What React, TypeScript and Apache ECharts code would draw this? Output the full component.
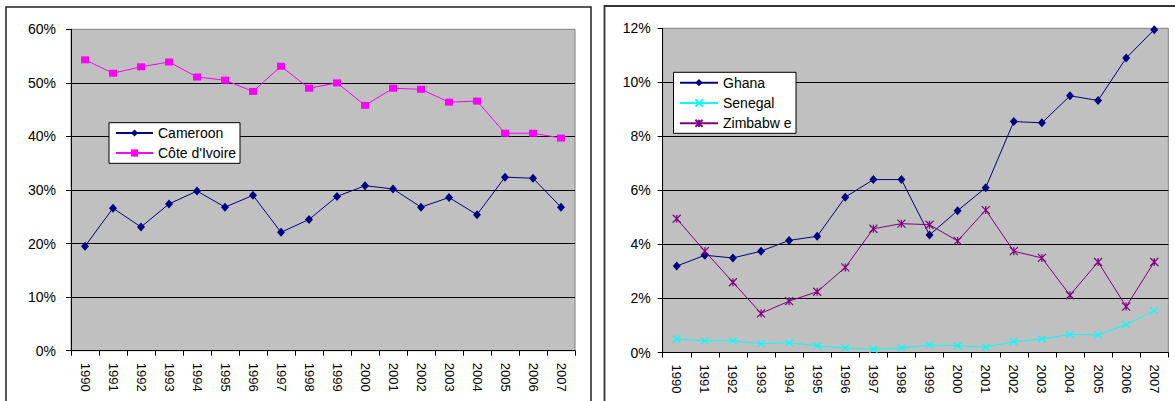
import React, { useEffect, useRef } from "react";
import * as echarts from "echarts";

const years = ["1990","1991","1992","1993","1994","1995","1996","1997","1998","1999","2000","2001","2002","2003","2004","2005","2006","2007"];
const cameroon = [19.5, 26.6, 23.1, 27.4, 29.8, 26.8, 29.0, 22.1, 24.5, 28.8, 30.8, 30.2, 26.8, 28.6, 25.4, 32.4, 32.2, 26.8];
const coteDIvoire = [54.3, 51.8, 53.0, 53.9, 51.1, 50.5, 48.4, 53.1, 49.0, 50.0, 45.8, 49.0, 48.8, 46.4, 46.6, 40.6, 40.6, 39.7];
const ghana = [3.2, 3.6, 3.5, 3.75, 4.15, 4.3, 5.75, 6.4, 6.4, 4.35, 5.25, 6.1, 8.55, 8.5, 9.5, 9.33, 10.9, 11.95];
const senegal = [0.5, 0.43, 0.43, 0.33, 0.36, 0.25, 0.17, 0.12, 0.17, 0.28, 0.25, 0.2, 0.4, 0.5, 0.67, 0.65, 1.03, 1.55];
const zimbabwe = [4.95, 3.75, 2.6, 1.45, 1.9, 2.25, 3.15, 4.58, 4.77, 4.73, 4.13, 5.27, 3.75, 3.5, 2.12, 3.35, 1.7, 3.35];
const leftNames = ["Cameroon", "Côte d'Ivoire"];
const rightNames = ["Ghana", "Senegal", "Zimbabw e"];
const leftAxis = { min: 0, max: 60, interval: 10 };
const rightAxis = { min: 0, max: 12, interval: 2 };

const FONT = "'Liberation Sans', Arial, sans-serif";
const CROSS = "path://M0,0L10,10M10,0L0,10";
const STAR = "path://M0,0L10,10M10,0L0,10M5,0L5,10";

function xAxis(gridIndex: number) {
  return {
    type: "category",
    gridIndex,
    data: years,
    boundaryGap: true,
    axisLine: { lineStyle: { color: "#000", width: 1 } },
    axisTick: { show: true, length: 5, alignWithLabel: false, lineStyle: { color: "#000" } },
    axisLabel: { rotate: -90, margin: 12, color: "#000", fontSize: 13, fontFamily: FONT, interval: 0 },
    splitLine: { show: false },
  };
}

function yAxis(gridIndex: number, cfg: { min: number; max: number; interval: number }, margin: number) {
  return {
    type: "value",
    gridIndex,
    min: cfg.min,
    max: cfg.max,
    interval: cfg.interval,
    axisLine: { show: true, lineStyle: { color: "#000", width: 1 } },
    axisTick: { show: true, length: 5, lineStyle: { color: "#000" } },
    axisLabel: { formatter: "{value}%", margin, color: "#000", fontSize: 14, fontFamily: FONT },
    splitLine: { show: true, showMaxLine: false, lineStyle: { color: "#000", width: 1 } },
  };
}

export default function App() {
  const ref = useRef<HTMLDivElement>(null);
  useEffect(() => {
    if (!ref.current) return;
    const chart = echarts.init(ref.current, null, { renderer: "svg" });
    const legendText = { color: "#000", fontSize: 14, fontFamily: FONT, lineHeight: 14 };
    chart.setOption({
      animation: false,
      backgroundColor: "#fff",
      textStyle: { fontFamily: FONT },
      grid: [
        { left: 71, top: 29.3, width: 504, height: 321.4, show: true, backgroundColor: "#C0C0C0", borderColor: "#808080", borderWidth: 1 },
        { left: 662.7, top: 28.3, width: 505.6, height: 324.2, show: true, backgroundColor: "#C0C0C0", borderColor: "#808080", borderWidth: 1 },
      ],
      xAxis: [xAxis(0), xAxis(1)],
      yAxis: [yAxis(0, leftAxis, 15), yAxis(1, rightAxis, 12)],
      legend: [
        {
          data: leftNames,
          orient: "vertical",
          left: 115,
          top: 126,
          padding: 0,
          itemWidth: 37,
          itemHeight: 9,
          itemGap: 6,
          z: 6,
          textStyle: legendText,
        },
        {
          data: rightNames,
          orient: "vertical",
          left: 679,
          top: 75.7,
          padding: 0,
          itemWidth: 38,
          itemHeight: 9,
          itemGap: 6.3,
          z: 6,
          textStyle: legendText,
        },
      ],
      graphic: [
        { type: "rect", silent: true, z: 10, shape: { x: 6, y: 7, width: 585, height: 430 }, style: { fill: "none", stroke: "#222", lineWidth: 1.5 } },
        { type: "rect", silent: true, z: 10, shape: { x: 604.5, y: 6, width: 620, height: 430 }, style: { fill: "none", stroke: "#333", lineWidth: 1.8 } },
        { type: "rect", silent: true, z: 3, shape: { x: 109, y: 122.7, width: 131, height: 40.6 }, style: { fill: "#fff", stroke: "#000", lineWidth: 1 } },
        { type: "rect", silent: true, z: 3, shape: { x: 673.5, y: 72.3, width: 122.5, height: 61 }, style: { fill: "#fff", stroke: "#000", lineWidth: 1 } },
      ],
      series: [
        {
          name: leftNames[0], type: "line", xAxisIndex: 0, yAxisIndex: 0, data: cameroon,
          symbol: "diamond", symbolSize: [8, 9], lineStyle: { color: "#000080", width: 1 }, itemStyle: { color: "#000080" },
        },
        {
          name: leftNames[1], type: "line", xAxisIndex: 0, yAxisIndex: 0, data: coteDIvoire,
          symbol: "rect", symbolSize: [8, 7], lineStyle: { color: "#FF00FF", width: 1 }, itemStyle: { color: "#FF00FF" },
        },
        {
          name: rightNames[0], type: "line", xAxisIndex: 1, yAxisIndex: 1, data: ghana,
          symbol: "diamond", symbolSize: [8, 9], lineStyle: { color: "#000080", width: 1 }, itemStyle: { color: "#000080" },
        },
        {
          name: rightNames[1], type: "line", xAxisIndex: 1, yAxisIndex: 1, data: senegal,
          symbol: CROSS, symbolSize: [8, 7], lineStyle: { color: "#00FFFF", width: 1 },
          itemStyle: { color: "#00FFFF", borderColor: "#00FFFF", borderWidth: 1.2 },
        },
        {
          name: rightNames[2], type: "line", xAxisIndex: 1, yAxisIndex: 1, data: zimbabwe,
          symbol: STAR, symbolSize: [8, 8], lineStyle: { color: "#800080", width: 1 },
          itemStyle: { color: "#800080", borderColor: "#800080", borderWidth: 1.2 },
        },
      ],
    });
    return () => chart.dispose();
  }, []);
  return <div ref={ref} style={{ position: "absolute", left: 0, top: 0, width: 1175, height: 401 }} />;
}
